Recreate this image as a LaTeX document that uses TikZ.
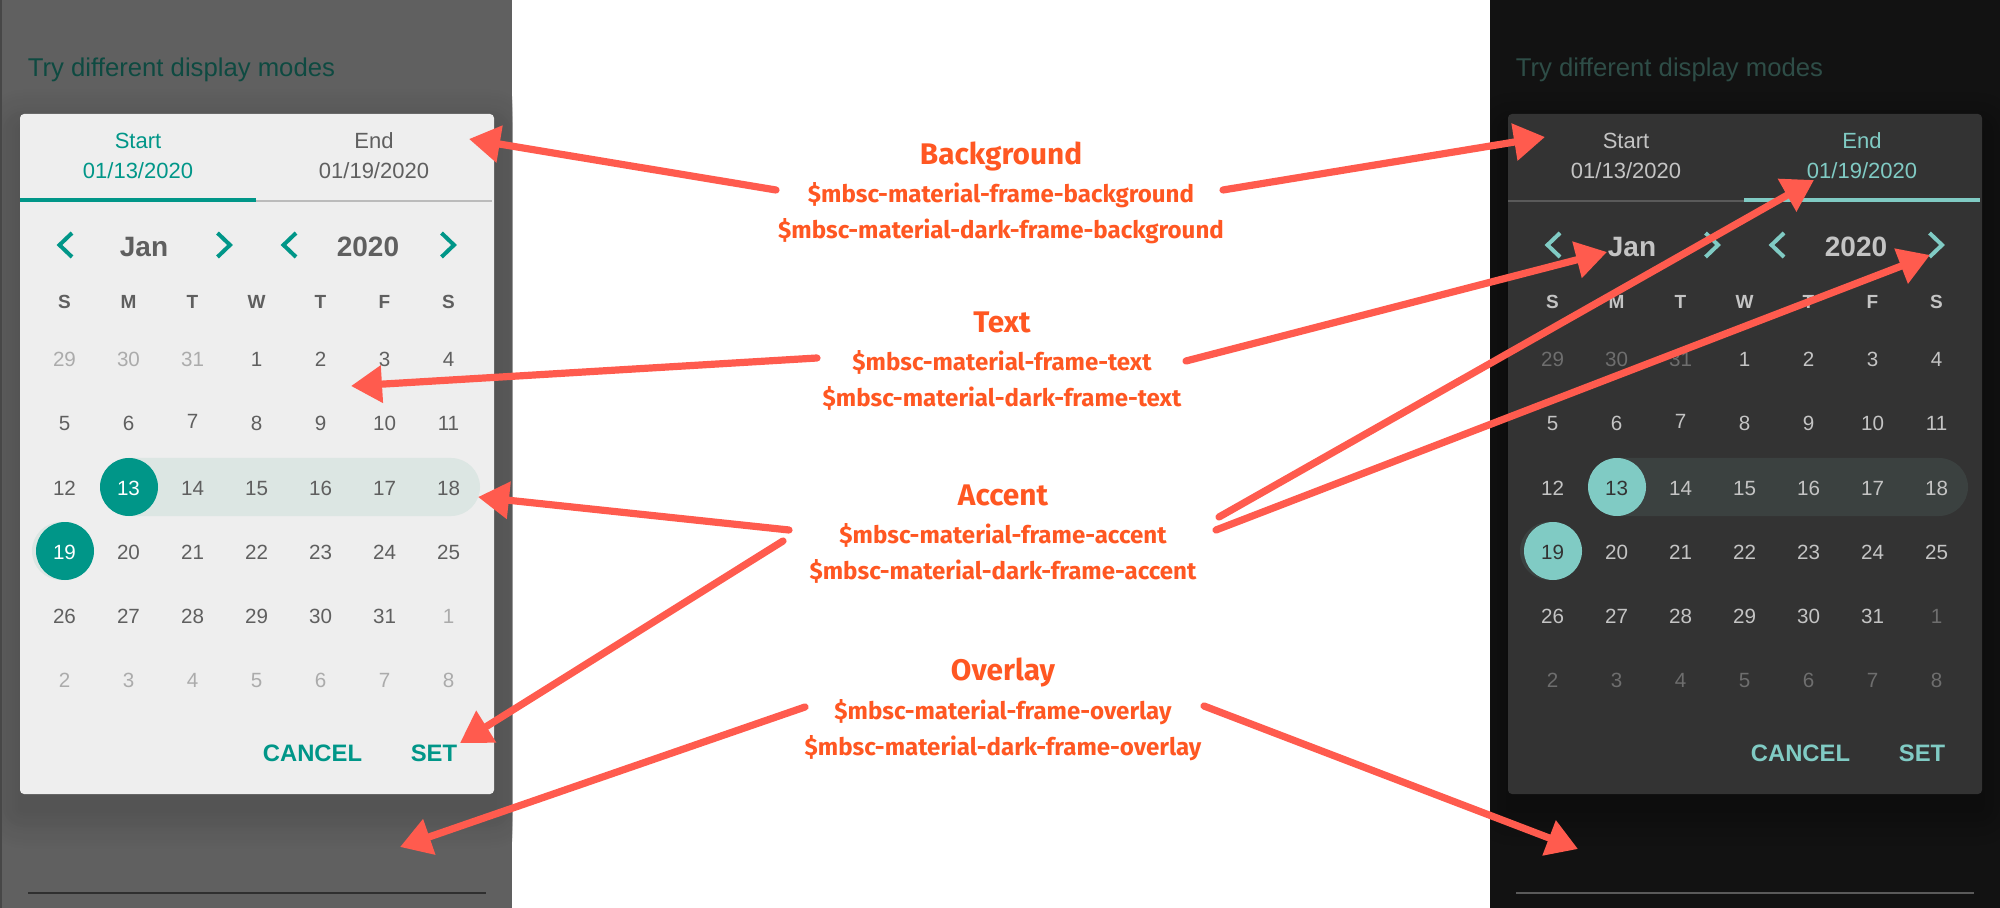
\documentclass[tikz,border=0pt]{standalone}
\usepackage{fontspec}
\setmainfont{Liberation Sans}
\newfontfamily\notefont{Fira Sans}
\usetikzlibrary{arrows.meta}
\definecolor{noteorange}{HTML}{FF5722}
\definecolor{arrowred}{HTML}{FF5B4E}
\definecolor{teal}{HTML}{009688}
\definecolor{lightteal}{HTML}{80CBC4}
\definecolor{tabgrey}{HTML}{BBBBBB}
\definecolor{edgegrey}{HTML}{474747}
\tikzset{
  x=0.5pt,y=-0.5pt,
  daynum/.style={anchor=base,inner sep=0pt,font=\fontsize{10.3pt}{12pt}\selectfont},
  wkday/.style={anchor=base,inner sep=0pt,font=\fontsize{9.5pt}{11pt}\selectfont\bfseries,text=ctext},
  tabtext/.style={anchor=base,inner sep=0pt,font=\fontsize{11pt}{13pt}\selectfont},
  headtext/.style={anchor=base,inner sep=0pt,font=\fontsize{14pt}{16pt}\selectfont\bfseries,text=ctext},
  btntext/.style={anchor=base,inner sep=0pt,font=\fontsize{11.9pt}{14pt}\selectfont\bfseries,text=caccent},
  pagetitle/.style={anchor=base west,inner sep=0pt,font=\fontsize{12.85pt}{15pt}\selectfont},
  chev/.style={draw=caccent,line width=2pt,line cap=butt,line join=miter,fill=none},
  notehead/.style={anchor=base,inner sep=0pt,text=noteorange,font=\notefont\fontsize{14.9pt}{17pt}\selectfont\bfseries},
  notevar/.style={anchor=base,inner sep=0pt,text=noteorange,font=\notefont\fontsize{12.05pt}{14pt}\selectfont\bfseries},
  callout/.style={draw=arrowred,line width=3.6pt,line cap=round,-{Triangle[length=15.5pt,width=18pt]}},
}
% row of day cells: y, row id, colour, first column, list
\newcommand\dayrow[5]{\foreach \t [count=\i from #4] in {#5} {%
  \node[daynum,text=#3] (\calp-r#2-c\i) at ({64.5+64*\i},#1) {\t};}}
\newcommand\chevleft[1]{\draw[chev] ({#1+7.5},233) -- ({#1-5},245) -- ({#1+7.5},257);}
\newcommand\chevright[1]{\draw[chev] ({#1-7.5},233) -- ({#1+5},245) -- ({#1-7.5},257);}
\newcommand\drawcal{%
  % panel
  \fill[cpanel] (\panelx,0) rectangle (512,908);
  \begin{scope}
    \clip (\panelx,0) rectangle (512,908);
    \foreach \r in {38,35,...,2} {
      \pgfmathsetmacro\mixp{100*(1-\r/40)}
      \fill[cshadow!\mixp!cpanel,rounded corners={(4+\r)*0.5pt}]
        ({20-\r},{128-\r}) rectangle ({494+\r},{810+\r});
    }
  \end{scope}
  \node[pagetitle,text=cpagetitle] (\calp-title) at (27.5,77) {Try different display modes};
  \draw[cline,line width=1pt] (28,893) -- (486,893);
  % dialog
  \fill[cdialog,rounded corners=2pt] (20,114) rectangle (494,794);
  % tabs
  \node[tabtext,text=ctaba] (\calp-start) at (138,149) {Start};
  \node[tabtext,text=ctaba] (\calp-sdate) at (138,179) {01/13/2020};
  \node[tabtext,text=ctabb] (\calp-end) at (374,149) {End};
  \node[tabtext,text=ctabb] (\calp-edate) at (374,179) {01/19/2020};
  % header
  \chevleft{64.5}\chevright{225}\chevleft{288.5}\chevright{449}
  \node[headtext] (\calp-month) at (144,257) {Jan};
  \node[headtext] (\calp-year) at (368,257) {2020};
  % week days
  \foreach \t [count=\i from 0] in {S,M,T,W,T,F,S} {
    \node[wkday] (\calp-wk\i) at ({64.5+64*\i},309) {\t};
  }
  % selection
  \fill[cpill,rounded corners=14.5pt] (100,458) rectangle (480,516);
  \fill[cpill] (61,551) circle (14.5pt);
  \fill[caccent] (129,487) circle (14.5pt);
  \fill[caccent] (65,551) circle (14.5pt);
  % days
  \dayrow{367}{1}{cmuted}{0}{29,30,31}
  \dayrow{367}{1}{ctext}{3}{1,2,3,4}
  \dayrow{431}{2}{ctext}{0}{5,6}
  \dayrow{429}{2}{ctext}{2}{7}
  \dayrow{431}{2}{ctext}{3}{8,9,10,11}
  \dayrow{495}{3}{ctext}{0}{12}
  \dayrow{495}{3}{csel}{1}{13}
  \dayrow{495}{3}{ctext}{2}{14,15,16,17,18}
  \dayrow{559}{4}{csel}{0}{19}
  \dayrow{559}{4}{ctext}{1}{20,21,22,23,24,25}
  \dayrow{623}{5}{ctext}{0}{26,27,28,29,30,31}
  \dayrow{623}{5}{cmuted}{6}{1}
  \dayrow{687}{6}{cmuted}{0}{2,3,4,5,6,7,8}
  % buttons
  \node[btntext] (\calp-cancel) at (312.5,761) {CANCEL};
  \node[btntext] (\calp-set) at (434,761) {SET};
}
\begin{document}
\begin{tikzpicture}
\useasboundingbox (0,0) rectangle (2000,908);
\fill[white] (0,0) rectangle (2000,908);

% ---------- light calendar
\begin{scope}
  \def\calp{lt}\def\panelx{0}
  \definecolor{cpanel}{HTML}{606060}
  \definecolor{cshadow}{HTML}{535353}
  \definecolor{cpagetitle}{HTML}{0E4A41}
  \definecolor{cline}{HTML}{2F2F2F}
  \definecolor{cdialog}{HTML}{EEEEEE}
  \definecolor{ctext}{HTML}{5F5F5F}
  \definecolor{cmuted}{HTML}{ABABAB}
  \definecolor{csel}{HTML}{FFFFFF}
  \definecolor{cpill}{HTML}{DCE6E3}
  \colorlet{caccent}{teal}
  \colorlet{ctaba}{teal}
  \definecolor{ctabb}{HTML}{5F5F5F}
  \drawcal
  \fill[edgegrey] (0,0) rectangle (2,908);
  \fill[tabgrey] (256,200) rectangle (492,202);
  \fill[teal] (20,198) rectangle (256,202);
\end{scope}

% ---------- dark calendar
\begin{scope}[shift={(1488,0)}]
  \def\calp{dk}\def\panelx{2}
  \definecolor{cpanel}{HTML}{121212}
  \definecolor{cshadow}{HTML}{0D0D0D}
  \definecolor{cpagetitle}{HTML}{2E4D47}
  \definecolor{cline}{HTML}{5A5A5A}
  \definecolor{cdialog}{HTML}{333333}
  \definecolor{ctext}{HTML}{C4C4C4}
  \definecolor{cmuted}{HTML}{6E6E6E}
  \definecolor{csel}{HTML}{333333}
  \definecolor{cpill}{HTML}{3B4140}
  \colorlet{caccent}{lightteal}
  \definecolor{ctaba}{HTML}{C4C4C4}
  \colorlet{ctabb}{lightteal}
  \drawcal
  \fill[cline] (20,200) rectangle (256,202);
  \fill[lightteal] (256,198) rectangle (492,202);
\end{scope}

% ---------- notes
\node[notehead] (bgh) at (1001,165) {Background};
\node[notevar] (bg1) at (1001,203) {\$mbsc-material-frame-background};
\node[notevar] (bg2) at (1001,239) {\$mbsc-material-dark-frame-background};
\node[notehead] (txh) at (1002,333) {Text};
\node[notevar] (tx1) at (1002,371) {\$mbsc-material-frame-text};
\node[notevar] (tx2) at (1002,407) {\$mbsc-material-dark-frame-text};
\node[notehead] (ach) at (1003,505) {Accent};
\node[notevar] (ac1) at (1003,543) {\$mbsc-material-frame-accent};
\node[notevar] (ac2) at (1003,579) {\$mbsc-material-dark-frame-accent};
\node[notehead] (ovh) at (1003,680) {Overlay};
\node[notevar] (ov1) at (1003,719) {\$mbsc-material-frame-overlay};
\node[notevar] (ov2) at (1003,755) {\$mbsc-material-dark-frame-overlay};

% ---------- callouts
\coordinate (a1s) at (776,190);  \coordinate (a1e) at (469,139);
\coordinate (a2s) at (1223,190); \coordinate (a2e) at (1545,137);
\coordinate (a3s) at (817,358);  \coordinate (a3e) at (351,386);
\coordinate (a4s) at (1186,361); \coordinate (a4e) at (1607,252);
\coordinate (a5s) at (789,530);  \coordinate (a5e) at (478,497);
\coordinate (a6s) at (783,541);  \coordinate (a6e) at (460,743);
\coordinate (a7s) at (1219,517); \coordinate (a7e) at (1814,180);
\coordinate (a8s) at (1216,530); \coordinate (a8e) at (1930,255);
\coordinate (a9s) at (805,707);  \coordinate (a9e) at (400,847);
\coordinate (a10s) at (1204,706);\coordinate (a10e) at (1578,849);
\foreach \n in {1,...,10} { \draw[callout] (a\n s) -- (a\n e); }
\end{tikzpicture}
\end{document}
